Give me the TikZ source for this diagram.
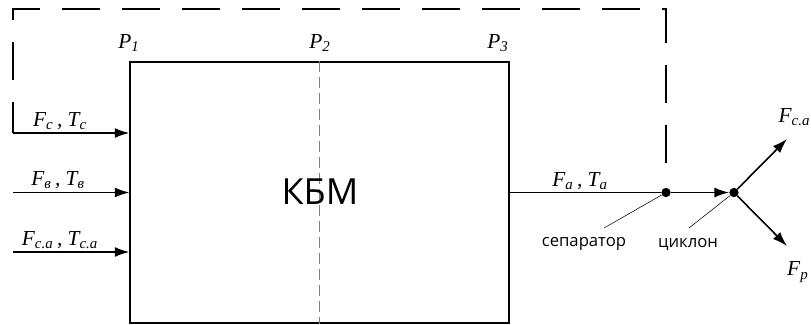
\documentclass[tikz,border=0pt]{standalone}
\usepackage{fontspec}
\setmainfont{Liberation Serif}
\newfontfamily\notefont{Open Sans}
\usetikzlibrary{arrows.meta,positioning}

\begin{document}
\begin{tikzpicture}
    [x=0.75pt,y=-0.75pt,
      block/.style={rectangle,draw,line width=1.1pt,minimum width=284pt,
        minimum height=196pt,inner sep=0pt},
      flow/.style={line width=1.2pt,-{Latex[length=11pt,width=7.5pt]}},
      link/.style={line width=1.2pt},
      leader/.style={line width=0.4pt},
      back/.style={line width=1.9pt,dash pattern=on 28.5pt off 16.5pt},
      dot/.style={circle,fill,inner sep=0pt,minimum size=7pt},
      var/.style={font=\itshape\fontsize{16}{18}\selectfont,inner sep=1pt},
      note/.style={font=\notefont\fontsize{12.5}{14}\selectfont,inner sep=1pt}
    ]
    \useasboundingbox (0,0) rectangle (811,325);

    \node [block] (kbm) at (319.5,192.5) {};
    \draw [gray,line width=0.5pt,dash pattern=on 8pt off 4pt]
    (kbm.north) -- (kbm.south);
    \node [font=\notefont\fontsize{27}{30}\selectfont] (kbmName) at (320,192) {КБМ};

    \node [var] (p1) at (129,43) {P\textsubscript{1}};
    \node [var] (p2) at (320,43) {P\textsubscript{2}};
    \node [var] (p3) at (498,43) {P\textsubscript{3}};

    \coordinate (inC) at (13,133);
    \coordinate (inB) at (13,192.5);
    \coordinate (inCA) at (13,252);
    \draw [flow] (inC) -- (inC -| kbm.west);
    \draw [flow] (inB) -- (inB -| kbm.west);
    \draw [flow] (inCA) -- (inCA -| kbm.west);
    \node [var] (lC) at (60,121) {F\textsubscript{с}\,, T\textsubscript{с}};
    \node [var] (lB) at (58,180) {F\textsubscript{в}\,, T\textsubscript{в}};
    \node [var] (lCA) at (60,240) {F\textsubscript{с.а}\,, T\textsubscript{с.а}};

    \node [dot] (sep) at (666,192.5) {};
    \node [dot] (cyc) at (734,192.5) {};
    \draw [link] (kbm.east) -- (sep);
    \draw [flow] (sep) -- (cyc);
    \node [var] (lA) at (580,181) {F\textsubscript{а}\,, T\textsubscript{а}};

    \coordinate (sepTop) at (666,163);
    \draw [back] (sepTop) -- (666,9) -- (13,9) -- (inC);

    \coordinate (gasEnd) at (787,139);
    \coordinate (dustEnd) at (787,246);
    \draw [flow] (cyc) -- (gasEnd);
    \draw [flow] (cyc) -- (dustEnd);
    \node [var,anchor=west] (lGas) at (777,117) {F\textsubscript{с.а}};
    \node [var,anchor=east] (lDust) at (810,272) {F\textsubscript{р}};

    \node [note] (sepNote) at (584,244) {сепаратор};
    \node [note] (cycNote) at (688,244) {циклон};
    \coordinate (sepTip) at (604,228);
    \coordinate (cycTip) at (689,228);
    \draw [leader] (sep) -- (sepTip);
    \draw [leader] (cyc) -- (cycTip);
  \end{tikzpicture}
\end{document}
